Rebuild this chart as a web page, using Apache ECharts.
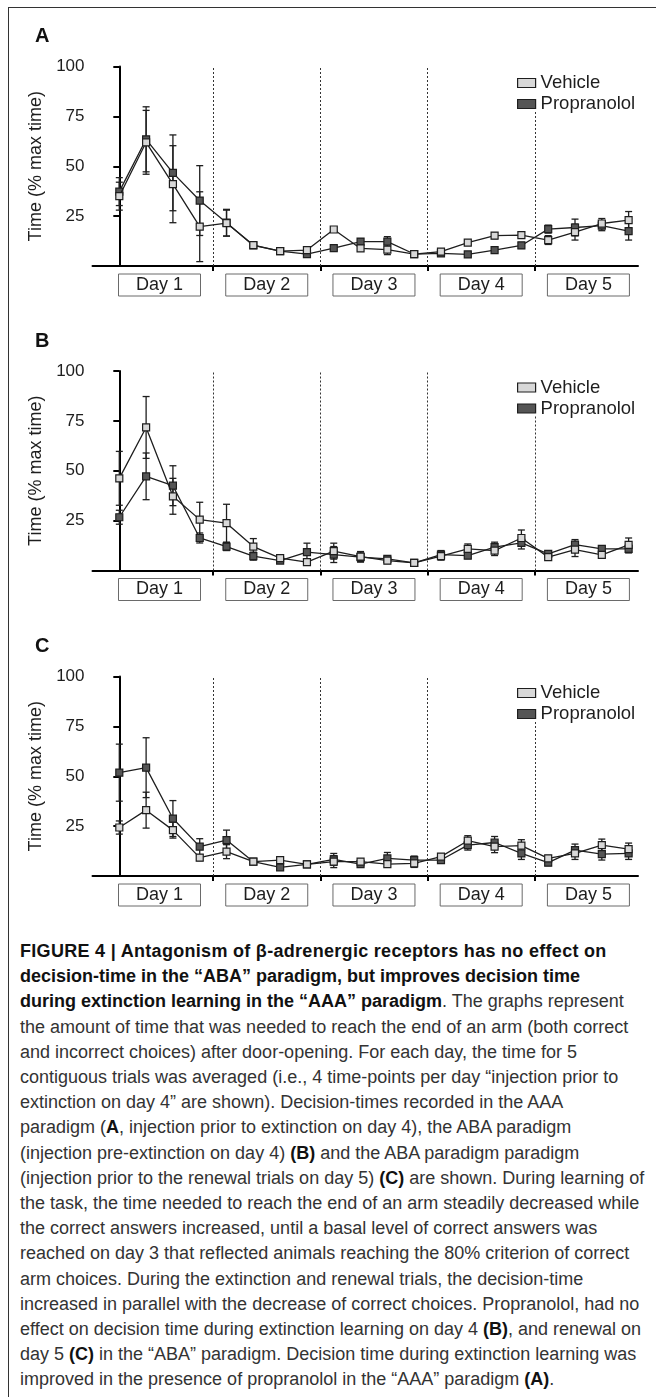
<!DOCTYPE html>
<html><head><meta charset="utf-8">
<script src="https://cdn.jsdelivr.net/npm/echarts@6/dist/echarts.min.js"></script>
<style>
html,body{margin:0;padding:0;background:#fff;width:656px;height:1397px;overflow:hidden;position:relative;}
#frame{position:absolute;left:8px;top:7px;width:800px;height:1500px;border-left:1px solid #333;border-top:1px solid #333;}
#chart{position:absolute;left:0;top:0;width:656px;height:930px;}
#caption{position:absolute;left:20px;top:939px;font-family:'Liberation Sans',Arial,sans-serif;font-size:18px;line-height:25.2px;color:#333;white-space:nowrap;}
#caption b{color:#111;}
#caption .l1{letter-spacing:0.3px;}
</style></head><body>
<div id="frame"></div>
<div id="chart"></div>
<div id="caption"><b class="l1">FIGURE 4 | Antagonism of β-adrenergic receptors has no effect on</b><br><b>decision-time in the “ABA” paradigm, but improves decision time</b><br><b>during extinction learning in the “AAA” paradigm</b>. The graphs represent<br>the amount of time that was needed to reach the end of an arm (both correct<br>and incorrect choices) after door-opening. For each day, the time for 5<br>contiguous trials was averaged (i.e., 4 time-points per day “injection prior to<br>extinction on day 4” are shown). Decision-times recorded in the AAA<br>paradigm (<b>A</b>, injection prior to extinction on day 4), the ABA paradigm<br>(injection pre-extinction on day 4) <b>(B)</b> and the ABA paradigm paradigm<br>(injection prior to the renewal trials on day 5) <b>(C)</b> are shown. During learning of<br>the task, the time needed to reach the end of an arm steadily decreased while<br>the correct answers increased, until a basal level of correct answers was<br>reached on day 3 that reflected animals reaching the 80% criterion of correct<br>arm choices. During the extinction and renewal trials, the decision-time<br>increased in parallel with the decrease of correct choices. Propranolol, had no<br>effect on decision time during extinction learning on day 4 <b>(B)</b>, and renewal on<br>day 5 <b>(C)</b> in the “ABA” paradigm. Decision time during extinction learning was<br>improved in the presence of propranolol in the “AAA” paradigm <b>(A)</b>.</div>
<script>
const panelLabels = ['A', 'B', 'C'];
const seriesNames = ['Vehicle', 'Propranolol'];
const dayLabels = ['Day 1', 'Day 2', 'Day 3', 'Day 4', 'Day 5'];
const dayCenters = [1.5, 5.5, 9.5, 13.5, 17.5];
const separators = [3.5, 7.5, 11.5, 15.5];
const separatorTops = [100, 100, 100, 77.5];
const yTicks = [25, 50, 75, 100];
const yName = 'Time (% max time)';

// Panel A
const vehA = [35, 62, 41, 19.7, 21.5, 10.5, 7.5, 8, 18.3, 8.8, 8.2, 6, 7.2, 11.7, 15.2, 15.5, 13, 17, 21.3, 23];
const propA = [37.3, 63.5, 46.7, 32.8, 21.7, 10.3, 7.5, 6, 9, 12.2, 12.2, 6, 6.3, 5.8, 8, 10.3, 18.5, 19.3, 20.2, 17.5];
const errVehA = [7, 16, 19.3, 17.5, 6.5, 1.2, 1, 1, 1, 1.2, 2.5, 1, 1, 1, 1.5, 1.5, 2.2, 4, 2.5, 4.3];
const errPropA = [7, 16.3, 19, 17.5, 6.7, 1.2, 1, 1, 1, 1.5, 2.5, 1, 1, 1, 1, 1.5, 2, 4.2, 2.5, 4.5];
// Panel B
const vehB = [46.2, 71.7, 37.2, 25.5, 23.7, 12, 6.2, 4.2, 9.7, 7, 5, 3.8, 7.2, 10.8, 10, 16.3, 6.7, 10.5, 7.8, 12.8];
const propB = [26.7, 47.2, 42.5, 16.3, 12, 7.2, 5, 9.2, 8, 6.7, 5.8, 3.8, 8, 7.5, 11.7, 13.8, 8.3, 13, 10.8, 10.8];
const errVehB = [13.5, 15.5, 9, 8.7, 9.5, 4, 1.5, 1, 4, 2.5, 1.5, 0.8, 2, 2.5, 2.5, 4, 1.5, 3.5, 1.5, 3.5];
const errPropB = [3.5, 11.7, 10, 2.5, 2, 2, 1, 4.5, 4, 2.5, 1.5, 0.8, 2, 1.5, 2.5, 3, 1.5, 2.5, 1.5, 2];
// Panel C
const vehC = [24.3, 33, 23, 9.2, 12.2, 7.2, 8, 5.8, 7.2, 7.2, 6, 6.3, 9.7, 17.7, 14.7, 15.2, 8.8, 11.3, 15.5, 13.5];
const propC = [51.8, 54.3, 28.8, 14.7, 18, 7.2, 4.3, 5.8, 8.3, 6, 8.8, 8, 8, 15.5, 16.8, 11.3, 6.7, 13, 11, 11.3];
const errVehC = [3.3, 9, 4, 1.5, 3.5, 1, 1.2, 1, 3, 1.2, 1.5, 2, 1.2, 2.5, 3, 3, 1.5, 3, 3, 3];
const errPropC = [14.3, 15, 9, 4, 5, 1, 1, 1, 3, 1.2, 3, 2, 1.2, 2.5, 3, 3, 1.5, 3, 3, 3];

const panels = [
  { veh: vehA, prop: propA, ev: errVehA, ep: errPropA },
  { veh: vehB, prop: propB, ev: errVehB, ep: errPropB },
  { veh: vehC, prop: propC, ev: errVehC, ep: errPropC }
];

const FONT = 'Liberation Sans, Arial, sans-serif';
const INK = '#1e1e1e';
const gridTops = [66.5, 371, 676.5];
const GRID_H = 199.5;
const vehFill = '#d8d8d8';
const propFill = '#555555';

function errRender(params, api) {
  const x = api.value(0), y = api.value(1), e = api.value(2);
  const t = api.coord([x, y + e]);
  const b = api.coord([x, y - e]);
  const hw = 3.5;
  const st = { stroke: INK, lineWidth: 1.3 };
  return {
    type: 'group',
    children: [
      { type: 'line', shape: { x1: t[0], y1: t[1], x2: b[0], y2: b[1] }, style: st },
      { type: 'line', shape: { x1: t[0] - hw, y1: t[1], x2: t[0] + hw, y2: t[1] }, style: st },
      { type: 'line', shape: { x1: b[0] - hw, y1: b[1], x2: b[0] + hw, y2: b[1] }, style: st }
    ]
  };
}

const grid = [], xAxis = [], yAxis = [], series = [], legend = [], graphic = [];
panels.forEach((p, k) => {
  grid.push({ left: 92.5, width: 545.5, top: gridTops[k], height: GRID_H });
  xAxis.push({
    type: 'value', gridIndex: k, min: -1, max: 19.35,
    axisLine: { show: true, onZero: false, lineStyle: { color: '#000', width: 2 } },
    axisTick: { show: true, customValues: separators, length: 5, lineStyle: { color: '#000', width: 2 } },
    splitLine: { show: false },
    axisLabel: {
      show: true, customValues: dayCenters,
      formatter: v => dayLabels[dayCenters.indexOf(v)],
      fontFamily: FONT, fontSize: 18, color: INK,
      borderColor: '#6a6a6a', borderWidth: 1,
      width: 82, height: 22, lineHeight: 22, align: 'center', padding: 0, margin: 8
    }
  });
  yAxis.push({
    type: 'value', gridIndex: k, min: 0, max: 100,
    name: yName, nameLocation: 'middle', nameGap: 40,
    nameTextStyle: { fontFamily: FONT, fontSize: 18, color: INK },
    axisLine: { show: true, lineStyle: { color: '#000', width: 2 } },
    axisTick: { show: true, customValues: yTicks, length: 6, lineStyle: { color: '#000', width: 2 } },
    axisLabel: { show: true, customValues: yTicks, fontFamily: FONT, fontSize: 17, color: INK, margin: 8 },
    splitLine: { show: false }
  });
  const sepData = separators.map((s, j) => [
    { coord: [s, 0] }, { coord: [s, separatorTops[j]] }
  ]);
  series.push({
    type: 'custom', name: 'Vehicle SEM', xAxisIndex: k, yAxisIndex: k, z: 1,
    renderItem: errRender, encode: { x: 0, y: 1 },
    data: p.veh.map((v, i) => [i, v, p.ev[i]]), silent: true
  });
  series.push({
    type: 'custom', name: 'Propranolol SEM', xAxisIndex: k, yAxisIndex: k, z: 1,
    renderItem: errRender, encode: { x: 0, y: 1 },
    data: p.prop.map((v, i) => [i, v, p.ep[i]]), silent: true
  });
  series.push({
    type: 'line', name: seriesNames[1], xAxisIndex: k, yAxisIndex: k, z: 3,
    data: p.prop.map((v, i) => [i, v]),
    symbol: 'rect', symbolSize: 7, showAllSymbol: true,
    itemStyle: { color: propFill, borderColor: INK, borderWidth: 1.2 },
    lineStyle: { color: INK, width: 1.3 }, animation: false, silent: true
  });
  series.push({
    type: 'line', name: seriesNames[0], xAxisIndex: k, yAxisIndex: k, z: 4,
    data: p.veh.map((v, i) => [i, v]),
    symbol: 'rect', symbolSize: 7, showAllSymbol: true,
    itemStyle: { color: vehFill, borderColor: INK, borderWidth: 1.2 },
    lineStyle: { color: INK, width: 1.3 }, animation: false, silent: true,
    markLine: {
      silent: true, symbol: 'none', animation: false,
      label: { show: false },
      lineStyle: { color: '#333', width: 1, type: [2, 2] },
      data: sepData
    }
  });
  legend.push({
    orient: 'vertical', left: 512, top: gridTops[k] + 2, itemWidth: 18, itemHeight: 9, itemGap: 2,
    icon: 'rect', selectedMode: false,
    textStyle: { fontFamily: FONT, fontSize: 18.5, color: INK },
    data: [
      { name: seriesNames[0], itemStyle: { color: vehFill, borderColor: INK, borderWidth: 1.2 } },
      { name: seriesNames[1], itemStyle: { color: propFill, borderColor: INK, borderWidth: 1.2 } }
    ]
  });
  graphic.push({
    type: 'text', left: 35, top: gridTops[k] - 40,
    style: { text: panelLabels[k], font: 'bold 20px ' + FONT, fill: '#111' }
  });
});

const chart = echarts.init(document.getElementById('chart'), null, { renderer: 'canvas' });
chart.setOption({
  animation: false,
  backgroundColor: 'transparent',
  grid, xAxis, yAxis, series, legend, graphic
});
</script>
</body></html>
